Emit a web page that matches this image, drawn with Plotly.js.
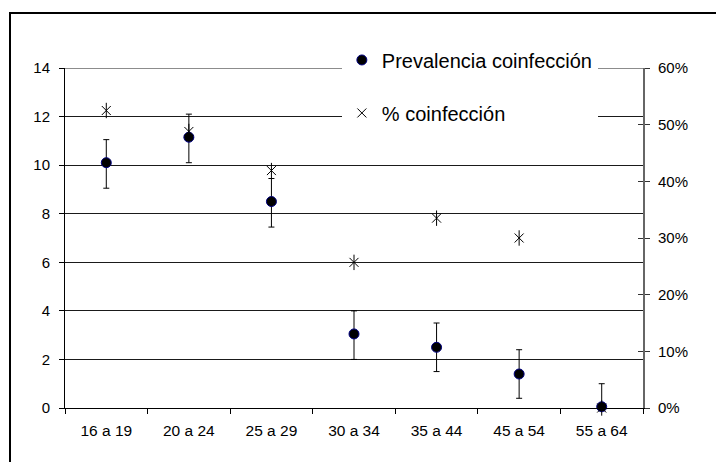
<!DOCTYPE html>
<html>
<head>
<meta charset="utf-8">
<script src="https://cdn.plot.ly/plotly-3.0.1.min.js"></script>
<style>
  html, body { margin: 0; padding: 0; background: #fff; overflow: hidden; }
  #wrap { position: relative; width: 716px; height: 462px; overflow: hidden; }
  #chart { width: 716px; height: 462px; }
  #frame { position: absolute; left: 9px; top: 12px; width: 800px; height: 600px;
           border-left: 2px solid #000; border-top: 2px solid #000; pointer-events: none; }
</style>
</head>
<body>
<div id="wrap">
<div id="chart"></div>
<div id="frame"></div>
</div>
<script>
// ---- data ----
const categories = ["16 a 19", "20 a 24", "25 a 29", "30 a 34", "35 a 44", "45 a 54", "55 a 64"];
const prevalencia = [10.1, 11.15, 8.5, 3.05, 2.5, 1.4, 0.05];
const errPlus = [0.95, 0.95, 0.95, 0.95, 1.0, 1.0, 0.95];
const errMinus = [1.05, 1.05, 1.05, 1.05, 1.0, 1.0, 0.05];
const pctCoinfeccion = [0.525, 0.488, 0.419, 0.257, 0.335, 0.30, 0.0];
const leftTicks = [0, 2, 4, 6, 8, 10, 12, 14];
const rightTicks = [0, 0.1, 0.2, 0.3, 0.4, 0.5, 0.6];
const names = ["Prevalencia coinfección", "% coinfección"];

const font = "Liberation Sans, Arial, sans-serif";

const traces = [
  {
    type: "scatter", mode: "markers", x: categories, y: prevalencia,
    name: names[0], legendgroup: "a", xaxis: "x", yaxis: "y",
    marker: { symbol: "circle", size: 10, color: "#000000", line: { color: "#000080", width: 1 } },
    error_y: { type: "data", symmetric: false, array: errPlus, arrayminus: errMinus,
               color: "#000000", thickness: 1, width: 3 },
    cliponaxis: false
  },
  {
    type: "scatter", mode: "markers", x: categories, y: pctCoinfeccion,
    name: names[1], legendgroup: "b", xaxis: "x", yaxis: "y2",
    marker: { symbol: "x-thin-open", size: 9, color: "#000000", line: { color: "#000000", width: 1 } },
    cliponaxis: false
  },
  {
    type: "scatter", mode: "markers", x: categories, y: pctCoinfeccion,
    showlegend: false, legendgroup: "b", xaxis: "x", yaxis: "y2", hoverinfo: "skip",
    marker: { symbol: "line-ns-open", size: 11, color: "#000000", line: { color: "#000000", width: 1 } },
    cliponaxis: false
  },
  // empty trace to activate the cross-tick companion axis
  { type: "scatter", x: [], y: [], xaxis: "x", yaxis: "y3", showlegend: false, hoverinfo: "skip" }
];

const layout = {
  width: 716, height: 462,
  margin: { l: 65, r: 73, t: 68, b: 54 },
  paper_bgcolor: "#ffffff", plot_bgcolor: "#ffffff",
  font: { family: font, size: 15, color: "#000000" },
  showlegend: true,
  legend: {
    x: 0.479, y: 1.081, xanchor: "left", yanchor: "top",
    bgcolor: "#ffffff", borderwidth: 0,
    font: { family: font, size: 20, color: "#000000" },
    traceorder: "grouped", tracegroupgap: 24
  },
  xaxis: {
    type: "category", categoryorder: "array", categoryarray: categories,
    range: [-0.5, 6.5], showgrid: false, zeroline: false,
    showline: true, linecolor: "#000000", linewidth: 1,
    ticks: "outside", tickson: "boundaries", ticklen: 5, tickcolor: "#000000",
    ticklabelstandoff: 8,
    tickfont: { family: font, size: 15.5, color: "#000000" }
  },
  yaxis: {
    range: [0, 14], tickvals: leftTicks, ticktext: leftTicks.map(String),
    showgrid: true, gridcolor: "#1a1a1a", gridwidth: 1, zeroline: false,
    showline: true, linecolor: "#000000", linewidth: 1,
    ticks: "outside", ticklen: 5, tickcolor: "#000000", ticklabelstandoff: 6,
    tickfont: { family: font, size: 15, color: "#000000" }
  },
  yaxis2: {
    overlaying: "y", side: "right", range: [0, 0.6],
    tickvals: rightTicks, tickformat: ".0%",
    showgrid: false, zeroline: false,
    showline: true, linecolor: "#666666", linewidth: 2,
    ticks: "outside", ticklen: 5, tickcolor: "#333333", ticklabelstandoff: 5,
    tickfont: { family: font, size: 15, color: "#000000" }
  },
  yaxis3: {
    overlaying: "y", side: "right", range: [0, 0.6],
    tickvals: rightTicks, showticklabels: false,
    showgrid: false, zeroline: false, showline: false,
    ticks: "inside", ticklen: 5, tickcolor: "#333333"
  },
  shapes: [
    // top gridline (at the edge of the range, which Plotly omits)
    { type: "line", xref: "paper", yref: "y", x0: 0, x1: 1, y0: leftTicks[leftTicks.length - 1], y1: leftTicks[leftTicks.length - 1],
      line: { color: "#1a1a1a", width: 1 }, layer: "above" }
  ]
};

Plotly.newPlot("chart", traces, layout, { displayModeBar: false, staticPlot: true });
</script>
</body>
</html>
